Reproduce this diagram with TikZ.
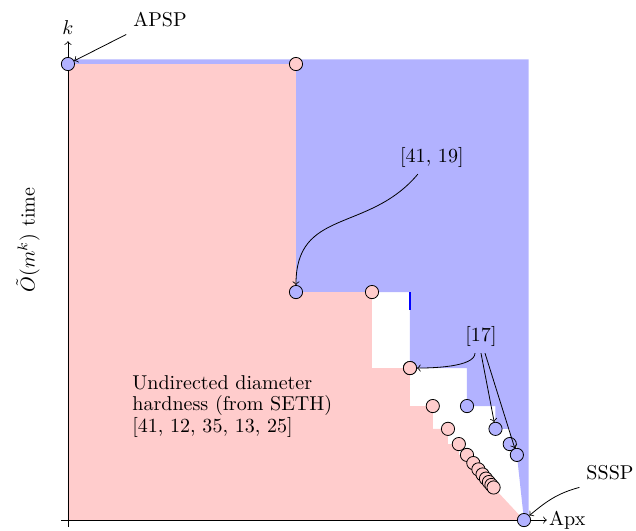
\documentclass[tikz,border=0pt]{standalone}
\usetikzlibrary{arrows}

\begin{document}
\begin{tikzpicture}[x=8cm,y=8cm,>=to,
  lower node/.style={circle,fill=red!20,draw,minimum size=6.6pt,inner sep=0pt},
  upper node/.style={circle,fill=blue!30,draw,minimum size=6.6pt,inner sep=0pt}]
  \useasboundingbox (0.851,0.978) rectangle (2.2456,2.1404);
  % regions
  \fill[blue!30] (1,2.01) -- (2.01,2.01) -- (2.01,1) -- (2,1)
    \foreach \j in {6,5,...,1} { -- ({2-1/2^\j},{1+1/(\j+1)}) -- ({2-1/2^\j},{1+1/\j}) }
    -- (1,2) -- cycle;
  \fill[red!20] (1,1) -- (1,2)
    \foreach \k in {2,...,14} { -- ({2-1/\k},{1+1/(\k-1)}) -- ({2-1/\k},{1+1/\k}) }
    -- ({2-1/15},{1+1/14}) -- (2,1) -- cycle;
  \draw[blue,line width=1pt] (1.75,1.5) -- (1.75,1.46);
  % axes
  \draw[->] (1,0.985) -- (1,2.05) node[above] {$k$};
  \draw[->] (0.985,1) -- (2.05,1) node[right,inner sep=1pt] {Apx};
  \node[rotate=90] (ylab) at (0.9123,1.614) {$\tilde{O}(m^k)$ time};
  % points
  \node[upper node] (apsp) at (1,2) {};
  \node[upper node] (sssp) at (2,1) {};
  \foreach \j in {1,...,6}
    \node[upper node] (u\j) at ({2-1/2^\j},{1+1/(\j+1)}) {};
  \foreach \k in {2,...,15}
    \node[lower node] (l\k) at ({2-1/\k},{1+1/(\k-1)}) {};
  % labels
  \node (apsp label) at (1.2018,2.0965) {APSP};
  \node (ref a) at (1.798,1.796) {[41, 19]};
  \node (ref b) at (1.9057,1.4035) {[17]};
  \node (sssp label) at (2.1886,1.1031) {SSSP};
  \node[align=left,anchor=north west,inner sep=0pt,font=\linespread{0.9}\selectfont] (hard)
    at (1.1404,1.318) {Undirected diameter\\hardness (from SETH)\\{}[41, 12, 35, 13, 25]};
  \path[->]
    (apsp label.south west) edge (apsp)
    ([xshift=-7pt]ref a.south) edge[out=-130,in=90,looseness=1.2] (u1)
    ([xshift=-3pt]ref b.south) edge[out=-90,in=0,looseness=0.6] (l4)
    (ref b.south) edge (u4)
    ([xshift=2pt]ref b.south) edge (u6)
    (sssp label.south west) edge[out=195,in=40] (sssp);
\end{tikzpicture}
\end{document}
